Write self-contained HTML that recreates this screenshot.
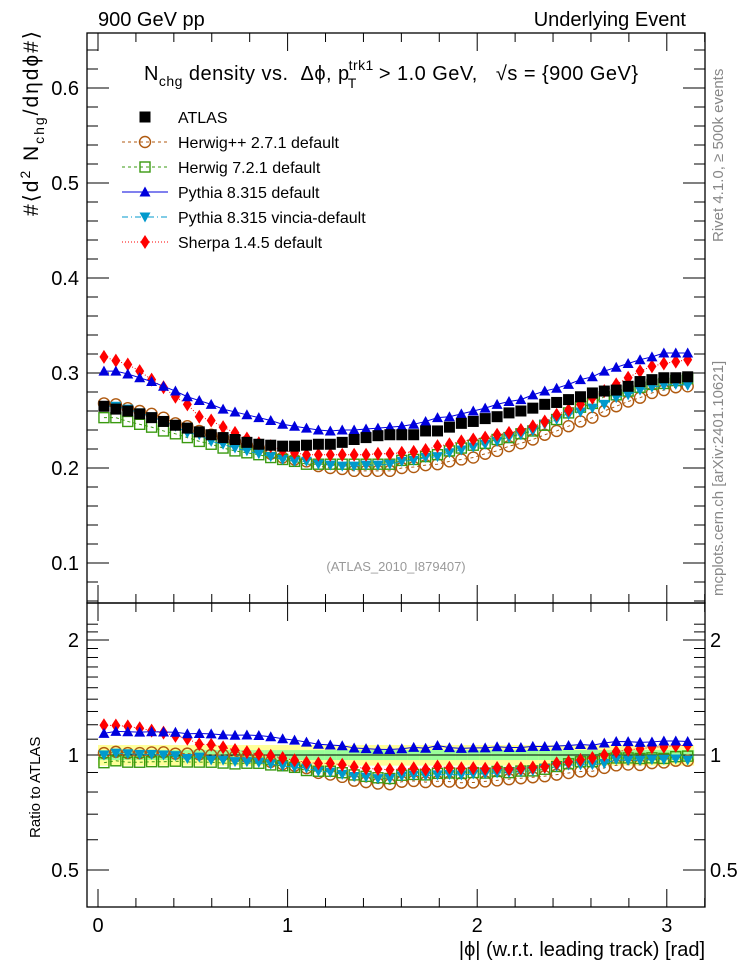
<!DOCTYPE html>
<html><head><meta charset="utf-8"><style>
body{margin:0;background:#fff;}
svg{display:block;font-family:"Liberation Sans",sans-serif;}
</style></head><body>
<svg id="chart" width="746" height="972" viewBox="0 0 746 972">
<text x="98" y="26" font-size="20">900 GeV pp</text>
<text x="686" y="26" font-size="20" text-anchor="end">Underlying Event</text>
<text x="144" y="80" font-size="20" textLength="494" lengthAdjust="spacing">N<tspan font-size="14" dy="6">chg</tspan><tspan dy="-6"> density vs.&#160; Δϕ, p</tspan><tspan font-size="14" dx="-1" dy="-10">trk1</tspan><tspan font-size="14" dx="-26" dy="18">T</tspan><tspan dx="16" dy="-8"> &gt; 1.0 GeV,&#160;&#160; √s = {900 GeV}</tspan></text>
<text transform="translate(38,216) rotate(-90)" font-size="21" textLength="185" lengthAdjust="spacing">#⟨d<tspan font-size="14" dy="-8">2</tspan><tspan dy="8"> N</tspan><tspan font-size="14" dy="6">chg</tspan><tspan dy="-6">/dηdϕ#⟩</tspan></text>
<text transform="translate(40,838) rotate(-90)" font-size="15">Ratio to ATLAS</text>
<text transform="translate(723,242) rotate(-90)" font-size="15" fill="#888">Rivet 4.1.0, ≥ 500k events</text>
<text transform="translate(723,596) rotate(-90)" font-size="15" fill="#888">mcplots.cern.ch [arXiv:2401.10621]</text>
<text x="396" y="571" font-size="13" fill="#999" text-anchor="middle">(ATLAS_2010_I879407)</text>
<text x="705" y="956" font-size="20" text-anchor="end">|ϕ| (w.r.t. leading track) [rad]</text>
<g id="g"></g>
</svg>
<script>
const xCenters = [];
for (let i = 0; i < 50; i++) xCenters.push((i + 0.5) * Math.PI / 50);
const atlas = [0.265,0.262,0.260,0.257,0.253,0.249,0.245,0.242,0.238,0.235,0.232,0.230,0.227,0.225,0.224,0.223,0.223,0.224,0.225,0.225,0.227,0.230,0.232,0.234,0.235,0.235,0.235,0.239,0.239,0.243,0.247,0.249,0.252,0.254,0.258,0.260,0.263,0.267,0.269,0.272,0.275,0.279,0.281,0.282,0.286,0.291,0.293,0.295,0.295,0.296];
const herwigpp = [0.268,0.267,0.263,0.260,0.257,0.253,0.247,0.244,0.239,0.235,0.232,0.228,0.224,0.221,0.215,0.211,0.209,0.207,0.202,0.200,0.199,0.197,0.197,0.197,0.197,0.200,0.201,0.203,0.204,0.207,0.209,0.211,0.215,0.218,0.223,0.226,0.230,0.235,0.239,0.244,0.249,0.253,0.260,0.265,0.270,0.274,0.279,0.282,0.285,0.286];
const herwig7 = [0.253,0.253,0.249,0.246,0.243,0.239,0.236,0.232,0.228,0.225,0.221,0.218,0.216,0.214,0.211,0.209,0.207,0.204,0.204,0.204,0.204,0.204,0.204,0.204,0.204,0.208,0.209,0.212,0.214,0.218,0.221,0.224,0.226,0.230,0.232,0.236,0.239,0.245,0.251,0.258,0.264,0.268,0.275,0.277,0.281,0.285,0.288,0.289,0.292,0.294];
const pythia = [0.302,0.302,0.299,0.295,0.291,0.286,0.281,0.275,0.271,0.267,0.262,0.259,0.256,0.253,0.250,0.246,0.244,0.242,0.240,0.239,0.240,0.240,0.241,0.242,0.243,0.244,0.246,0.249,0.253,0.254,0.257,0.260,0.263,0.267,0.270,0.272,0.277,0.281,0.284,0.288,0.293,0.296,0.302,0.306,0.310,0.314,0.317,0.321,0.321,0.321];
const vincia = [0.265,0.265,0.262,0.258,0.254,0.249,0.244,0.237,0.235,0.228,0.225,0.221,0.218,0.215,0.212,0.209,0.207,0.207,0.204,0.203,0.202,0.202,0.203,0.203,0.204,0.207,0.208,0.211,0.212,0.216,0.219,0.222,0.225,0.228,0.232,0.235,0.239,0.246,0.251,0.256,0.259,0.263,0.267,0.274,0.277,0.282,0.285,0.287,0.288,0.287];
const sherpa = [0.317,0.313,0.309,0.302,0.293,0.285,0.275,0.267,0.254,0.250,0.243,0.237,0.231,0.226,0.223,0.219,0.216,0.214,0.214,0.214,0.214,0.214,0.214,0.215,0.215,0.216,0.217,0.219,0.223,0.225,0.228,0.230,0.232,0.235,0.237,0.240,0.244,0.249,0.256,0.261,0.267,0.274,0.281,0.288,0.295,0.302,0.307,0.310,0.312,0.314];
const statErr = 0.03, totErr = 0.062;
const mainTicks = [0.1,0.2,0.3,0.4,0.5,0.6];
const ratioTicks = [0.5,1,2];
const xTicks = [0,1,2,3];

const L=87,R=705,T=33,MB=603,RB=907;
const X = v => 98 + v*189.6;
const Y = v => 88 + (0.6 - v)*950;
const YR = r => 755 - Math.log2(r)*115;
const NS="http://www.w3.org/2000/svg";
const g=document.getElementById('g');
function el(t,a,p){const e=document.createElementNS(NS,t);for(const k in a)e.setAttribute(k,a[k]);(p||g).appendChild(e);return e;}

const band=el('g',{});


const bw=Math.PI/50;
xCenters.forEach(x=>{
  el('rect',{x:X(x-bw/2),y:YR(1+totErr),width:X(x+bw/2)-X(x-bw/2)+0.5,height:YR(1-totErr)-YR(1+totErr),fill:'#ffff99'},band);
  el('rect',{x:X(x-bw/2),y:YR(1+statErr),width:X(x+bw/2)-X(x-bw/2)+0.5,height:YR(1-statErr)-YR(1+statErr),fill:'#99ff99'},band);
});
const one=el('line',{x1:L,x2:R,y1:YR(1),y2:YR(1),stroke:'#000','stroke-width':1});



const f1=el('rect',{x:L,y:T,width:R-L,height:MB-T,fill:'none',stroke:'#000','stroke-width':1.3});


const f2=el('rect',{x:L,y:MB,width:R-L,height:RB-MB,fill:'none',stroke:'#000','stroke-width':1.3});



for(let v=0;v<=3.2001;v+=0.2){
  const major=Math.abs(v-Math.round(v))<1e-6, len=major?18:9;
  [[T,1],[MB,-1],[MB,1],[RB,-1]].forEach(([y,d])=>el('line',{x1:X(v),x2:X(v),y1:y,y2:y+d*len,stroke:'#000'}));
}
xTicks.forEach(v=>{const t=el('text',{x:X(v),y:932,'font-size':20,'text-anchor':'middle'});t.textContent=v;

});
for(let v=0.04;v<=0.66;v+=0.02){
  const y=Y(v); if(y<T||y>MB)continue;
  const major=Math.abs(v*10-Math.round(v*10))<1e-6,len=major?22:11;
  el('line',{x1:L,x2:L+len,y1:y,y2:y,stroke:'#000'});el('line',{x1:R,x2:R-len,y1:y,y2:y,stroke:'#000'});
}
mainTicks.forEach(v=>{const t=el('text',{x:79,y:Y(v)+7,'font-size':20,'text-anchor':'end'});t.textContent=v.toFixed(1);

});
[0.4,0.5,0.6,0.7,0.8,0.9,1,1.1,1.2,1.3,1.4,1.5,1.6,1.7,1.8,1.9,2,2.1,2.2].forEach(v=>{
  const y=YR(v); if(y<MB||y>RB)return;
  const major=ratioTicks.includes(v),len=major?22:11;
  el('line',{x1:L,x2:L+len,y1:y,y2:y,stroke:'#000'});el('line',{x1:R,x2:R-len,y1:y,y2:y,stroke:'#000'});
});
ratioTicks.forEach(v=>{[[79,'end'],[710,'start']].forEach(([x,a])=>{const t=el('text',{x:x,y:YR(v)+7,'font-size':20,'text-anchor':a});t.textContent=v;

});});

function marker(type,x,y,p){
  const s=5.5;
  if(type==='sq')return el('rect',{x:x-s,y:y-s,width:2*s,height:2*s,fill:'#000'},p);
  if(type==='circ')return el('circle',{cx:x,cy:y,r:s,fill:'none',stroke:'#b05a10','stroke-width':1.4},p);
  if(type==='osq')return el('rect',{x:x-s+0.5,y:y-s+0.5,width:2*s-1,height:2*s-1,fill:'none',stroke:'#3a9a10','stroke-width':1.4},p);
  if(type==='tri')return el('polygon',{points:`${x},${y-s} ${x-s},${y+s-1} ${x+s},${y+s-1}`,fill:'#0000dd'},p);
  if(type==='itri')return el('polygon',{points:`${x},${y+s} ${x-s},${y-s+1} ${x+s},${y-s+1}`,fill:'#0099cc'},p);
  if(type==='dia')return el('polygon',{points:`${x},${y-7} ${x-4.5},${y} ${x},${y+7} ${x+4.5},${y}`,fill:'#ff0000'},p);
}
const series=[
 {name:'herwigpp',d:herwigpp,m:'circ',c:'#b05a10',dash:'3,3'},
 {name:'herwig7',d:herwig7,m:'osq',c:'#3a9a10',dash:'3,3'},
 {name:'vincia',d:vincia,m:'itri',c:'#0099cc',dash:'6,3,1,3'},
 {name:'sherpa',d:sherpa,m:'dia',c:'#ff0000',dash:'1,2'},
 {name:'pythia',d:pythia,m:'tri',c:'#0000dd',dash:''},
];
series.forEach(s=>{
  const gm=el('g',{});
  
  
  const gr=el('g',{});
  
  
  el('polyline',{points:s.d.map((v,i)=>X(xCenters[i])+','+Y(v)).join(' '),fill:'none',stroke:s.c,'stroke-dasharray':s.dash},gm);
  el('polyline',{points:s.d.map((v,i)=>X(xCenters[i])+','+YR(v/atlas[i])).join(' '),fill:'none',stroke:s.c,'stroke-dasharray':s.dash},gr);
  s.d.forEach((v,i)=>{marker(s.m,X(xCenters[i]),Y(v),gm);marker(s.m,X(xCenters[i]),YR(v/atlas[i]),gr);});
});
const ga=el('g',{});


atlas.forEach((v,i)=>marker('sq',X(xCenters[i]),Y(v),ga));

const lg=el('g',{});


const leg=[['ATLAS','sq','',''],['Herwig++ 2.7.1 default','circ','#b05a10','3,3'],['Herwig 7.2.1 default','osq','#3a9a10','3,3'],['Pythia 8.315 default','tri','#0000dd',''],['Pythia 8.315 vincia-default','itri','#0099cc','6,3,1,3'],['Sherpa 1.4.5 default','dia','#ff0000','1,2']];
leg.forEach((e,k)=>{
  const y=117+k*25;
  const ge=el('g',{},lg);
  
  
  if(e[2])el('line',{x1:122,x2:168,y1:y,y2:y,stroke:e[2],'stroke-dasharray':e[3]},ge);
  marker(e[1],145,y,ge);
  const t=el('text',{x:178,y:y+6,'font-size':16},ge);t.textContent=e[0];
});
</script>
</body></html>
